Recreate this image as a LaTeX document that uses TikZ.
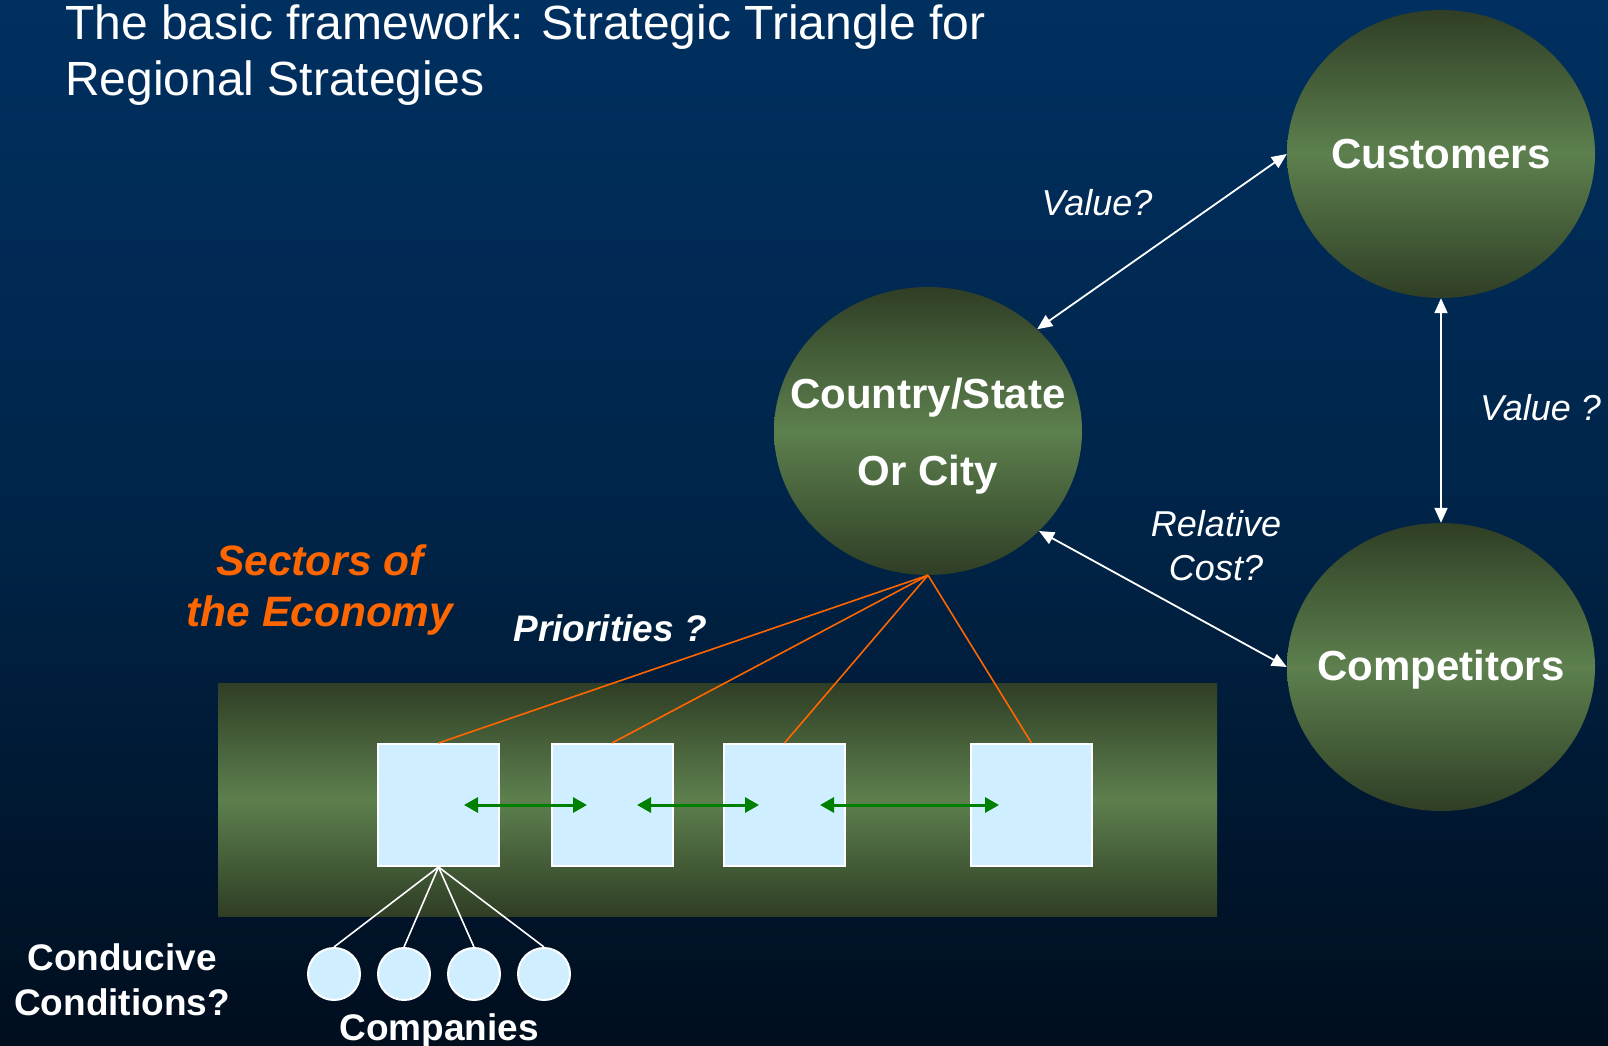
\documentclass[tikz,border=0pt]{standalone}
\usepackage{fontspec}
\setmainfont{Liberation Sans}
\usetikzlibrary{shapes.geometric,arrows.meta,calc}
\definecolor{bgtop}{RGB}{0,48,96}
\definecolor{bgmid}{RGB}{0,36,72}
\definecolor{bgbot}{RGB}{0,14,30}
\definecolor{oldark}{RGB}{47,62,37}
\definecolor{ollight}{RGB}{93,128,78}
\definecolor{sqfill}{RGB}{207,238,255}
\definecolor{orng}{RGB}{255,102,0}
\definecolor{grn}{RGB}{0,128,0}
\begin{document}
\begin{tikzpicture}[x=1pt,y=-1pt,
  bigcirc/.style={ellipse, minimum width=308pt, minimum height=288pt, inner sep=0pt,
    top color=oldark, bottom color=oldark, middle color=ollight},
  bigtext/.style={text=white, inner sep=0pt,
    font=\fontsize{42}{77}\selectfont\bfseries, align=center},
  warrow/.style={draw=white, line width=1.8pt,
    {Triangle[length=15pt,width=13pt]}-{Triangle[length=15pt,width=13pt]}},
  garrow/.style={draw=grn, line width=3pt,
    {Triangle[length=14pt,width=15pt]}-{Triangle[length=14pt,width=15pt]}},
  oline/.style={draw=orng, line width=1.6pt},
  wline/.style={draw=white, line width=1.6pt},
  sqbox/.style={rectangle, fill=sqfill, draw=white, line width=2pt,
    minimum width=121pt, minimum height=122pt, inner sep=0pt},
  compc/.style={circle, fill=sqfill, draw=white, line width=2pt,
    minimum size=52pt, inner sep=0pt},
  lbl/.style={text=white, inner sep=0pt, font=\fontsize{36}{44}\selectfont\itshape},
  blbl/.style={text=white, inner sep=0pt, font=\fontsize{37}{45}\selectfont\bfseries}
]
\useasboundingbox (0,0) rectangle (1608,1046);
\shade[top color=bgtop, bottom color=bgbot, middle color=bgmid] (0,0) rectangle (1608,1046);

% title
\node[anchor=north west, align=left, inner sep=0pt, text=white,
  font=\fontsize{48}{56}\selectfont] (title) at (65,5)
  {The basic framework: Strategic Triangle for\\Regional Strategies};

% triangle
\node[bigcirc] (country) at (928,431) {};
\node[bigcirc] (customers) at (1441,154) {};
\node[bigcirc] (competitors) at (1441,667) {};
\node[bigtext] (countrytxt) at (928,436) {Country/State\\Or City};
\node[bigtext] (customerstxt) at (1441,154) {Customers};
\node[bigtext] (competitorstxt) at (1441,670) {Competitors};

\draw[warrow] (customers.west) -- (country.43);
\draw[warrow] (country.-42) -- (competitors.west);
\draw[warrow] (customers.south) -- (competitors.north);

\node[lbl] (val1) at (1097,203) {Value?};
\node[lbl, anchor=west] (val2) at (1480,408) {Value ?};
\node[lbl, align=center] (relcost) at (1216,546) {Relative\\Cost?};

% sectors band
\node[rectangle, minimum width=999pt, minimum height=233pt, inner sep=0pt,
  top color=oldark, bottom color=oldark, middle color=ollight] (band) at (717.5,799.5) {};

\node[sqbox] (s1) at (438.5,805) {};
\node[sqbox] (s2) at (612,805) {};
\node[sqbox] (s3) at (784.5,805) {};
\node[sqbox] (s4) at (1031.5,805) {};

\draw[oline] (country.south) -- (s1.north);
\draw[oline] (country.south) -- (s2.north);
\draw[oline] (country.south) -- (s3.north);
\draw[oline] (country.south) -- (s4.north);

\draw[garrow] ($(s1.center)+(25.5,0)$) -- ($(s2.west)+(36.5,0)$);
\draw[garrow] ($(s2.center)+(25,0)$) -- ($(s3.west)+(36,0)$);
\draw[garrow] ($(s3.center)+(35.5,0)$) -- ($(s4.west)+(29,0)$);

\node[text=orng, inner sep=0pt, align=center,
  font=\fontsize{42.5}{51}\selectfont\bfseries\itshape] (sectors) at (320,590)
  {Sectors of\\the Economy};
\node[blbl, font=\fontsize{37}{45}\selectfont\bfseries\itshape] (prio) at (610,628) {Priorities ?};

% companies
\node[compc] (c1) at (334,974) {};
\node[compc] (c2) at (404,974) {};
\node[compc] (c3) at (474,974) {};
\node[compc] (c4) at (544,974) {};
\draw[wline] (s1.south) -- (c1.north);
\draw[wline] (s1.south) -- (c2.north);
\draw[wline] (s1.south) -- (c3.north);
\draw[wline] (s1.south) -- (c4.north);

\node[blbl, align=center] (cond) at (122,980) {Conducive\\Conditions?};
\node[blbl] (compn) at (439,1031) {Companies};
\end{tikzpicture}
\end{document}
